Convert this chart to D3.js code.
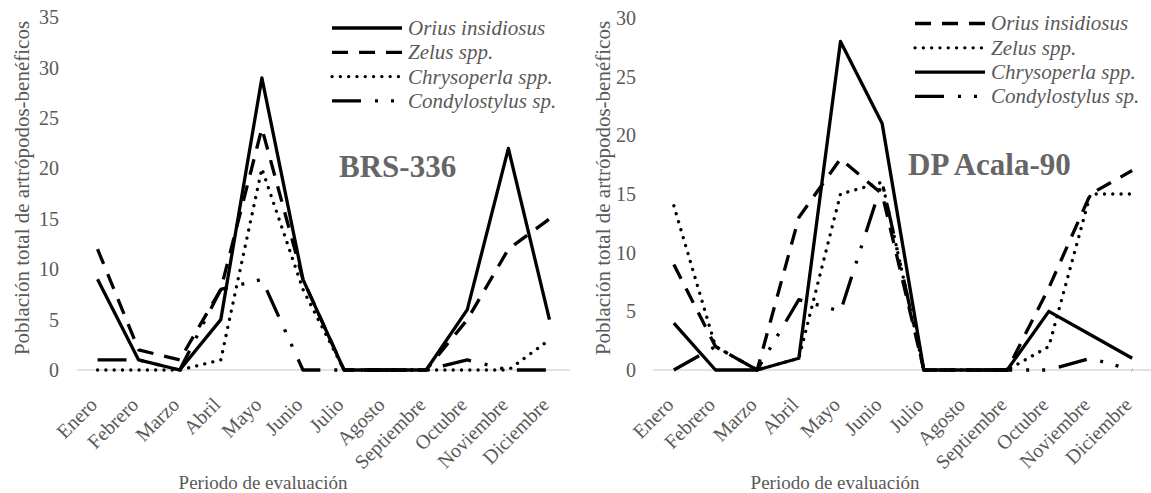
<!DOCTYPE html>
<html>
<head>
<meta charset="utf-8">
<script src="https://cdn.jsdelivr.net/npm/d3@7"></script>
<style>
  html, body { margin: 0; padding: 0; background: #fff; }
  svg { display: block; }
  svg text { font-family: 'Liberation Serif', 'Tinos', 'Times New Roman', 'DejaVu Serif', serif !important; fill: #595959; }
</style>
</head>
<body>
<svg id="chart" width="1151" height="493"></svg>
<script>
const months = ["Enero","Febrero","Marzo","Abril","Mayo","Junio","Julio","Agosto","Septiembre","Octubre","Noviembre","Diciembre"];
const speciesNames = ["Orius insidiosus","Zelus spp.","Chrysoperla spp.","Condylostylus sp."];

// BRS-336
const leftOrius = [9,1,0,5,29,9,0,0,0,6,22,5];
const leftZelus = [12,2,1,8,24,9,0,0,0,5,12,15];
const leftChrysoperla = [0,0,0,1,20,8,0,0,0,0,0,3];
const leftCondylostylus = [1,1,0,8,9,0,0,0,0,1,0,0];
const leftTicks = [0,5,10,15,20,25,30,35];

// DP Acala-90
const rightOrius = [9,2,0,13,18,15,0,0,0,7,15,17];
const rightZelus = [14,2,0,1,15,16,0,0,0,2,15,15];
const rightChrysoperla = [4,0,0,1,28,21,0,0,0,5,3,1];
const rightCondylostylus = [0,2,0,6,5,16,0,0,0,0,1,0];
const rightTicks = [0,5,10,15,20,25,30];

const yTitle = "Población total de artrópodos-benéficos";
const xTitle = "Periodo de evaluación";

const FONT = "'Liberation Serif', 'Tinos', 'Times New Roman', 'DejaVu Serif', serif";

const STYLES = {
  solid:   { dash: null, cap: "butt" },
  dashed:  { dash: "16,11", cap: "butt" },
  dotted:  { dash: "0.1,8.2", cap: "round" },
  dashdot: { dash: "29,14,3,13,3,14", cap: "butt" }
};

const svg = d3.select("#chart");

function drawPanel(cfg) {
  const g = svg.append("g").attr("font-family", FONT);
  const x = d3.scaleBand().domain(months).range(cfg.xRange);
  const y = d3.scaleLinear().domain([0, cfg.yMax]).range([370, cfg.yTop]);

  // y tick labels
  const yAxis = d3.axisLeft(y).tickValues(cfg.ticks).tickSize(0).tickPadding(0);
  const ya = g.append("g").attr("transform", `translate(${cfg.yLabelX},0)`).call(yAxis);
  ya.attr("font-family", FONT);
  ya.select(".domain").remove();
  ya.selectAll("text").attr("font-size", 20).attr("fill", "#595959");

  // baseline
  g.append("line")
    .attr("x1", cfg.xRange[0]).attr("x2", cfg.xRange[1])
    .attr("y1", y(0)).attr("y2", y(0))
    .attr("stroke", "#d9d9d9").attr("stroke-width", 1.5);

  // x labels
  const xa = g.append("g").attr("transform", `translate(0,${y(0)})`)
    .call(d3.axisBottom(x).tickSize(0).tickFormat(d => d));
  xa.attr("font-family", FONT);
  xa.select(".domain").remove();
  xa.selectAll(".tick text")
    .attr("font-size", 20).attr("fill", "#595959")
    .attr("text-anchor", "end")
    .attr("y", 0).attr("dy", "0.7em")
    .attr("transform", "translate(-9,26) rotate(-45)");

  // lines
  const line = d3.line().x((d, i) => x(months[i]) + x.bandwidth() / 2).y(d => y(d));
  cfg.series.forEach(s => {
    const st = STYLES[s.style];
    g.append("path").datum(s.values)
      .attr("d", line)
      .attr("fill", "none").attr("stroke", "#000")
      .attr("stroke-width", 3.3)
      .attr("stroke-linejoin", "round")
      .attr("stroke-linecap", st.cap)
      .attr("stroke-dasharray", st.dash);
  });

  // legend
  cfg.series.forEach((s, i) => {
    const st = STYLES[s.style];
    const ly = cfg.legendY + i * 24.3;
    g.append("line")
      .attr("x1", cfg.legendX).attr("x2", cfg.legendX + 70)
      .attr("y1", ly).attr("y2", ly)
      .attr("stroke", "#000").attr("stroke-width", 3.3)
      .attr("stroke-linecap", st.cap)
      .attr("stroke-dasharray", st.dash);
    g.append("text")
      .attr("x", cfg.legendX + 76).attr("y", ly)
      .attr("dy", "0.33em")
      .attr("font-size", 21).attr("font-style", "italic")
      .text(s.name);
  });

  // panel title
  g.append("text")
    .attr("x", cfg.titleX).attr("y", cfg.titleY)
    .attr("font-size", 31).attr("font-weight", "bold")
    .style("fill", "#666666")
    .text(cfg.title);

  // y title
  g.append("text")
    .attr("transform", `translate(${cfg.yTitleX},188) rotate(-90)`)
    .attr("text-anchor", "middle").attr("dy", "0.35em")
    .attr("font-size", 21)
    .text(yTitle);

  // x title
  g.append("text")
    .attr("x", cfg.xTitleX).attr("y", 489)
    .attr("text-anchor", "middle")
    .attr("font-size", 19)
    .text(xTitle);
}

drawPanel({
  xRange: [77, 570], yMax: 35, yTop: 17.5, ticks: leftTicks, yLabelX: 59,
  legendX: 332, legendY: 28,
  title: "BRS-336", titleX: 339, titleY: 177,
  yTitleX: 22, xTitleX: 263,
  series: [
    { name: speciesNames[0], values: leftOrius, style: "solid" },
    { name: speciesNames[1], values: leftZelus, style: "dashed" },
    { name: speciesNames[2], values: leftChrysoperla, style: "dotted" },
    { name: speciesNames[3], values: leftCondylostylus, style: "dashdot" }
  ]
});

drawPanel({
  xRange: [653, 1153], yMax: 30, yTop: 18, ticks: rightTicks, yLabelX: 636,
  legendX: 915, legendY: 23.5,
  title: "DP Acala-90", titleX: 908, titleY: 175,
  yTitleX: 603, xTitleX: 835,
  series: [
    { name: speciesNames[0], values: rightOrius, style: "dashed" },
    { name: speciesNames[1], values: rightZelus, style: "dotted" },
    { name: speciesNames[2], values: rightChrysoperla, style: "solid" },
    { name: speciesNames[3], values: rightCondylostylus, style: "dashdot" }
  ]
});
</script>
</body>
</html>
